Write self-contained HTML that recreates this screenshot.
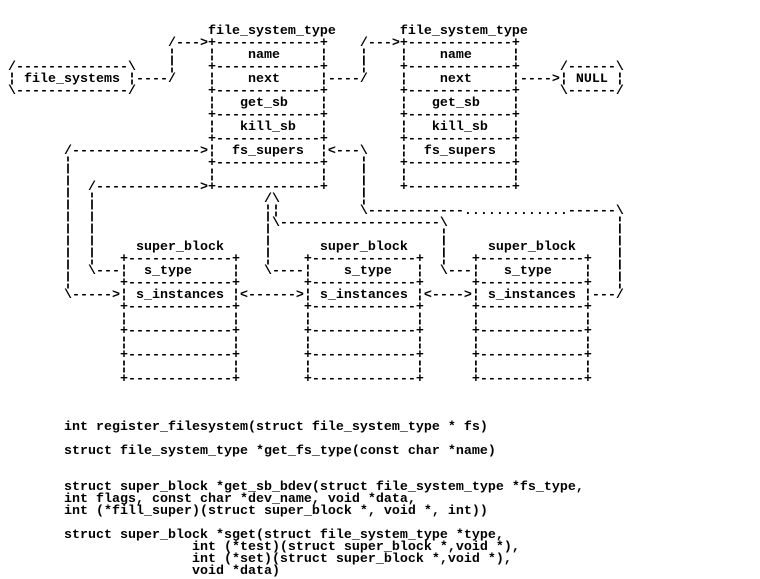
<!DOCTYPE html>
<html><head><meta charset="utf-8"><style>
html,body{margin:0;padding:0;background:#fff;width:760px;height:576px;overflow:hidden}
pre{position:absolute;left:0;top:26px;margin:0;font-family:"Liberation Mono",monospace;font-weight:bold;font-size:13.333px;line-height:12px;color:#000;letter-spacing:0}
</style></head><body><pre>                          file_system_type        file_system_type
                     /---&gt;+-------------+    /---&gt;+-------------+
                     ¦    ¦    name     ¦    ¦    ¦    name     ¦
 /--------------\    ¦    +-------------+    ¦    +-------------+     /------\
 ¦ file_systems ¦----/    ¦    next     ¦----/    ¦    next     ¦----&gt;¦ NULL ¦
 \--------------/         +-------------+         +-------------+     \------/
                          ¦   get_sb    ¦         ¦   get_sb    ¦
                          +-------------+         +-------------+
                          ¦   kill_sb   ¦         ¦   kill_sb   ¦
                          +-------------+         +-------------+
        /----------------&gt;¦  fs_supers  ¦&lt;---\    ¦  fs_supers  ¦
        ¦                 +-------------+    ¦    +-------------+
        ¦                 ¦             ¦    ¦    ¦             ¦
        ¦  /-------------&gt;+-------------+    ¦    +-------------+
        ¦  ¦                     /\          ¦
        ¦  ¦                     ¦¦          \------------.............------\
        ¦  ¦                     ¦\--------------------\                     ¦
        ¦  ¦                     ¦                     ¦                     ¦
        ¦  ¦     super_block     ¦      super_block    ¦     super_block     ¦
        ¦  ¦   +-------------+   ¦    +-------------+  ¦   +-------------+   ¦
        ¦  \---¦  s_type     ¦   \----¦    s_type   ¦  \---¦   s_type    ¦   ¦
        ¦      +-------------+        +-------------+      +-------------+   ¦
        \-----&gt;¦ s_instances ¦&lt;------&gt;¦ s_instances ¦&lt;----&gt;¦ s_instances ¦---/
               +-------------+        +-------------+      +-------------+
               ¦             ¦        ¦             ¦      ¦             ¦
               +-------------+        +-------------+      +-------------+
               ¦             ¦        ¦             ¦      ¦             ¦
               +-------------+        +-------------+      +-------------+
               ¦             ¦        ¦             ¦      ¦             ¦
               +-------------+        +-------------+      +-------------+



        int register_filesystem(struct file_system_type * fs)

        struct file_system_type *get_fs_type(const char *name)


        struct super_block *get_sb_bdev(struct file_system_type *fs_type,
        int flags, const char *dev_name, void *data,
        int (*fill_super)(struct super_block *, void *, int))

        struct super_block *sget(struct file_system_type *type,
                        int (*test)(struct super_block *,void *),
                        int (*set)(struct super_block *,void *),
                        void *data)
</pre></body></html>
